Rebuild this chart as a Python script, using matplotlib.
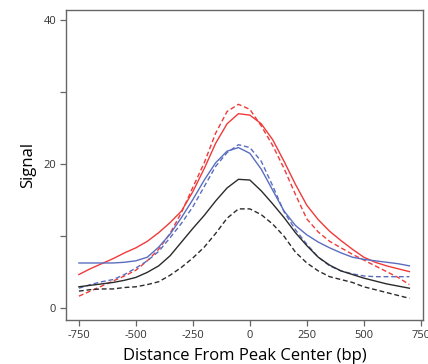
import numpy as np
import matplotlib
matplotlib.use("Agg")
import matplotlib.pyplot as plt

# %% Data
dist = np.arange(-750, 701, 50)

red_solid = [4.7, 5.5, 6.2, 6.9, 7.7, 8.4, 9.3, 10.5, 11.9, 13.5,
             16.2, 19.4, 22.9, 25.6, 27.0, 26.8, 25.6, 23.4, 20.4, 17.2,
             14.3, 12.3, 10.7, 9.4, 8.2, 7.1, 6.4, 5.9, 5.5, 5.1]
red_dash = [1.7, 2.4, 3.1, 3.8, 4.5, 5.3, 6.6, 8.2, 10.4, 13.3,
            16.8, 20.2, 24.3, 27.3, 28.3, 27.6, 25.3, 22.6, 19.4, 15.8,
            12.4, 10.6, 9.3, 8.4, 7.5, 6.7, 5.9, 5.1, 4.3, 3.3]
blue_solid = [6.3, 6.3, 6.3, 6.3, 6.4, 6.6, 7.1, 8.5, 10.3, 12.6,
              15.1, 17.8, 20.2, 21.8, 22.3, 21.5, 19.3, 16.4, 13.5, 11.5,
              10.2, 9.2, 8.4, 7.7, 7.1, 6.8, 6.6, 6.4, 6.2, 5.9]
blue_dash = [2.8, 3.3, 3.7, 4.0, 4.7, 5.6, 6.6, 7.9, 9.8, 11.8,
             14.1, 16.9, 19.7, 21.6, 22.7, 22.3, 20.4, 17.0, 13.4, 10.9,
             8.9, 7.1, 5.9, 5.2, 4.8, 4.5, 4.4, 4.4, 4.4, 4.4]
black_solid = [3.0, 3.2, 3.4, 3.6, 3.9, 4.3, 5.0, 5.9, 7.3, 9.2,
               11.1, 12.9, 14.9, 16.7, 17.9, 17.8, 16.3, 14.5, 12.6, 10.5,
               8.7, 7.1, 6.0, 5.2, 4.7, 4.2, 3.8, 3.4, 3.1, 2.8]
black_dash = [2.4, 2.6, 2.7, 2.7, 2.9, 3.0, 3.3, 3.7, 4.6, 5.7,
              7.0, 8.5, 10.4, 12.5, 13.8, 13.8, 13.0, 11.7, 10.0, 7.8,
              6.3, 5.2, 4.4, 4.0, 3.6, 3.0, 2.6, 2.2, 1.8, 1.4]

xticks = [-750, -500, -250, 0, 250, 500, 750]
yticks = [0, 10, 20, 30, 40]
ylabels = ["0", "", "20", "", "40"]

# %% Plot
plt.rcParams['font.family'] = ['Open Sans', 'DejaVu Sans']

fig = plt.figure(figsize=(4.28, 3.64), dpi=100)
ax = fig.add_axes([0.154, 0.121, 0.834, 0.852])

red = "#f03a3a"
blue = "#5a6ec0"
black = "#2b2b2b"
dash = (0, (3.5, 2))

ax.plot(dist, red_solid, color=red, lw=1.0)
ax.plot(dist, red_dash, color=red, lw=1.0, linestyle=dash)
ax.plot(dist, blue_solid, color=blue, lw=1.0)
ax.plot(dist, blue_dash, color=blue, lw=1.0, linestyle=dash)
ax.plot(dist, black_solid, color=black, lw=1.0)
ax.plot(dist, black_dash, color=black, lw=1.0, linestyle=dash)

ax.set_xlim(-807, 759)
ax.set_ylim(-1.6, 41.4)
ax.set_xticks(xticks)
ax.set_xticklabels([str(t) for t in xticks])
ax.set_yticks(yticks)
ax.set_yticklabels(ylabels)

for s in ax.spines.values():
    s.set_color("#666666")
    s.set_linewidth(1.0)
ax.tick_params(direction="out", length=4, width=0.9, color="#666666",
               labelsize=8, labelcolor="#333333", pad=3)

ax.set_xlabel("Distance From Peak Center (bp)", fontsize=12, labelpad=5)
ax.set_ylabel("Signal", fontsize=12, labelpad=5)

fig.savefig("out.png", dpi=100)
